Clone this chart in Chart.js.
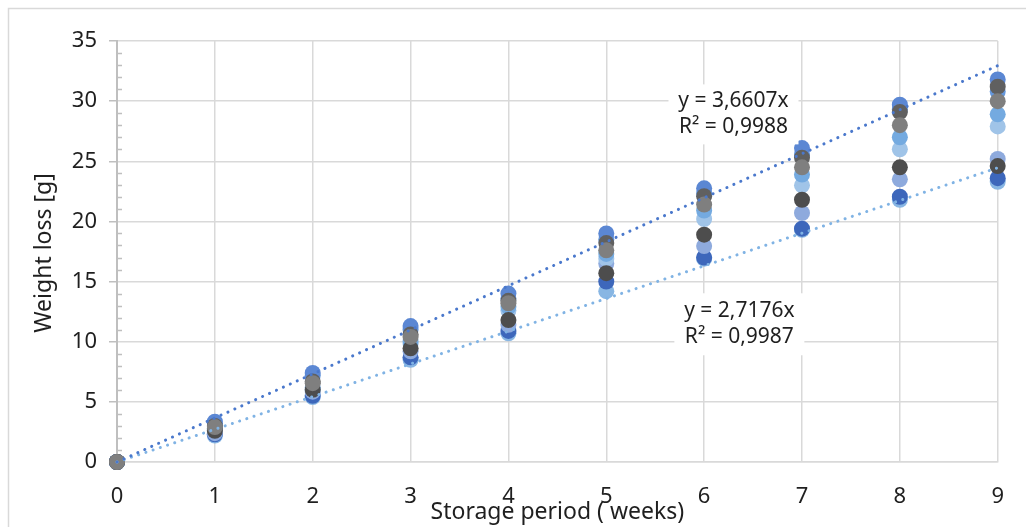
<!DOCTYPE html>
<html>
<head>
<meta charset="utf-8">
<script src="https://cdn.jsdelivr.net/npm/chart.js@4.4.1/dist/chart.umd.min.js"></script>
<style>
  html, body { margin: 0; padding: 0; background: #fff; overflow: hidden; }
  #wrap { position: relative; width: 1026px; height: 527px; }
</style>
</head>
<body>
<div id="wrap"><canvas id="chart"></canvas></div>
<script>
// weeks on the x axis
const weeks = [0, 1, 2, 3, 4, 5, 6, 7, 8, 9];

// weight loss [g] per sample
const sample1 = [0, 3.35, 7.4, 11.3, 14.0, 19.0, 22.75, 26.1, 29.7, 31.8];
const sample2 = [0, 3.0, 6.7, 10.6, 13.4, 18.2, 22.1, 25.3, 29.1, 31.2];
const sample3 = [0, 3.2, 7.2, 11.0, 13.6, 18.5, 22.3, 25.6, 29.3, 30.8];
const sample4 = [0, 2.9, 6.55, 10.4, 13.2, 17.6, 21.4, 24.5, 28.0, 30.0];
const sample5 = [0, 2.8, 6.2, 10.0, 12.9, 17.3, 20.9, 23.9, 27.0, 28.9];
const sample6 = [0, 2.7, 6.0, 9.8, 12.6, 16.9, 20.2, 23.0, 26.0, 27.9];
const sample7 = [0, 2.6, 6.0, 9.45, 11.8, 15.7, 18.9, 21.8, 24.5, 24.6];
const sample8 = [0, 2.4, 5.85, 9.2, 11.4, 16.5, 17.95, 20.7, 23.5, 25.2];
const sample9 = [0, 2.3, 5.5, 8.7, 10.9, 15.0, 17.0, 19.4, 22.05, 23.6];
const sample10 = [0, 2.2, 5.4, 8.5, 10.7, 14.2, 16.9, 19.3, 21.8, 23.3];

// linear trendlines through the origin (endpoints at week 0 and week 9)
const trendWeeks = [0, 9];
const trendUpper = [0, 32.95];
const trendLower = [0, 24.46];

const yTicks = [0, 5, 10, 15, 20, 25, 30, 35];

const labelUpper = ['y = 3,6607x', 'R\u00b2 = 0,9988'];
const labelLower = ['y = 2,7176x', 'R\u00b2 = 0,9987'];

const FONT = "'Noto Sans', sans-serif";
const TEXT = '#1f1f1f';

const toPoints = (xs, ys) => xs.map((x, i) => ({ x, y: ys[i] }));

// first entry is painted on top
const samples = [
  { data: sample4, color: '#7f7f7f' },
  { data: sample2, color: '#606060' },
  { data: sample7, color: '#4d4d4d' },
  { data: sample1, color: '#5b87d3' },
  { data: sample3, color: '#6497dc' },
  { data: sample5, color: '#74aae0' },
  { data: sample6, color: '#a0c4e8' },
  { data: sample8, color: '#8eaadd' },
  { data: sample9, color: '#3d67bb' },
  { data: sample10, color: '#88b6e3' }
];

const pointSets = samples.map((s, i) => ({
  label: 'Sample ' + (i + 1),
  data: toPoints(weeks, s.data),
  backgroundColor: s.color,
  borderColor: s.color,
  pointRadius: 8,
  pointHoverRadius: 8,
  borderWidth: 0,
  showLine: false,
  clip: false
}));

const trendSet = (ys, color) => ({
  label: 'trend',
  data: toPoints(trendWeeks, ys),
  showLine: true,
  borderColor: color,
  borderWidth: 3,
  borderDash: [0.1, 7.5],
  borderCapStyle: 'round',
  pointRadius: 0,
  clip: false,
  order: -1
});

// frame, minor ticks, axis titles and trendline equations
const decorations = {
  id: 'decorations',
  beforeDraw(chart) {
    const { ctx } = chart;
    ctx.save();
    ctx.strokeStyle = '#d9d9d9';
    ctx.lineWidth = 1.5;
    ctx.beginPath();
    ctx.moveTo(8.5, 540);
    ctx.lineTo(8.5, 8.5);
    ctx.lineTo(1030, 8.5);
    ctx.stroke();
    ctx.restore();
  },
  afterDatasetsDraw(chart) {
    const { ctx, scales: { x, y } } = chart;
    ctx.save();
    // minor ticks on the value axis
    ctx.strokeStyle = '#bfbfbf';
    ctx.lineWidth = 1.5;
    for (let v = 1; v <= 35; v++) {
      if (v % 5 === 0) continue;
      const py = Math.round(y.getPixelForValue(v)) + 0.5;
      ctx.beginPath();
      ctx.moveTo(x.left, py);
      ctx.lineTo(x.left + 5, py);
      ctx.stroke();
    }

    const drawLabel = (lines, cx, cy, box) => {
      const px = x.getPixelForValue(cx);
      const py = y.getPixelForValue(cy);
      ctx.fillStyle = '#fff';
      ctx.fillRect(px - box[0] / 2, py - box[1] / 2, box[0], box[1]);
      ctx.fillStyle = TEXT;
      ctx.font = '21px ' + FONT;
      ctx.textAlign = 'center';
      ctx.textBaseline = 'middle';
      ctx.fillText(lines[0], px, py - 13);
      ctx.fillText(lines[1], px, py + 13);
    };
    drawLabel(labelUpper, 6.3, 28.9, [130, 60]);
    drawLabel(labelLower, 6.36, 11.45, [130, 62]);

    // axis titles
    ctx.fillStyle = TEXT;
    ctx.font = '23px ' + FONT;
    ctx.textAlign = 'center';
    ctx.textBaseline = 'middle';
    ctx.fillText('Storage period ( weeks)', (x.left + x.right) / 2, 512);
    ctx.translate(44, 253);
    ctx.rotate(-Math.PI / 2);
    ctx.fillText('Weight loss [g]', 0, 0);
    ctx.restore();
  }
};

new Chart(document.getElementById('chart'), {
  type: 'scatter',
  data: {
    datasets: [
      trendSet(trendUpper, '#4a78cc'),
      trendSet(trendLower, '#80b3e4'),
      ...pointSets
    ]
  },
  options: {
    responsive: true,
    maintainAspectRatio: false,
    animation: false,
    events: [],
    layout: { padding: { top: 41, right: 24, left: 0, bottom: 0 } },
    plugins: {
      legend: { display: false },
      tooltip: { enabled: false }
    },
    scales: {
      x: {
        type: 'linear',
        min: 0,
        max: 9,
        afterFit: (s) => { s.height = 65; },
        afterBuildTicks: (s) => { s.ticks = weeks.map((v) => ({ value: v })); },
        grid: { color: '#d9d9d9', lineWidth: 1.5, drawTicks: false },
        border: { color: '#d9d9d9', width: 1.5 },
        ticks: {
          color: TEXT,
          font: { family: FONT, size: 22 },
          padding: 22,
          maxRotation: 0
        }
      },
      y: {
        type: 'linear',
        min: 0,
        max: 35,
        afterFit: (s) => { s.width = 117; },
        afterBuildTicks: (s) => { s.ticks = yTicks.map((v) => ({ value: v })); },
        grid: { color: '#d9d9d9', lineWidth: 1.5, tickLength: 8, tickColor: '#bfbfbf', tickWidth: 1.5 },
        border: { color: '#bfbfbf', width: 2 },
        ticks: {
          color: TEXT,
          font: { family: FONT, size: 22 },
          padding: 12
        }
      }
    }
  },
  plugins: [decorations]
});
</script>
</body>
</html>
